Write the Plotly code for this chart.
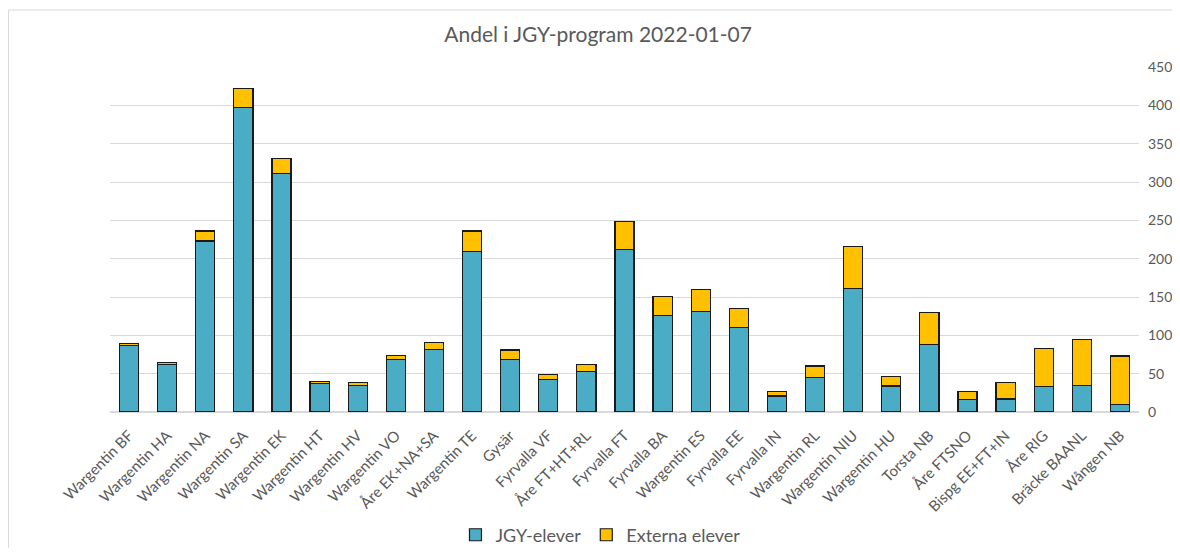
import plotly.graph_objects as go

# ── Data ─────────────────────────────────────────────────────────────────────

programs = [
    "Wargentin BF", "Wargentin HA", "Wargentin NA", "Wargentin SA", "Wargentin EK",
    "Wargentin HT", "Wargentin HV", "Wargentin VO", "Åre EK+NA+SA", "Wargentin TE",
    "Gysär", "Fyrvalla VF", "Åre FT+HT+RL", "Fyrvalla FT", "Fyrvalla BA",
    "Wargentin ES", "Fyrvalla EE", "Fyrvalla IN", "Wargentin RL", "Wargentin NIU",
    "Wargentin HU", "Torsta NB", "Åre FTSNO", "Bispg EE+FT+IN", "Åre RIG",
    "Bräcke BAANL", "Wången NB",
]

jgy_elever = [
    87, 62, 223, 397, 311,
    37, 35, 69, 82, 209,
    69, 42, 53, 212, 126,
    131, 110, 21, 45, 161,
    34, 88, 16, 17, 33,
    35, 10,
]

externa_elever = [
    2, 3, 13, 25, 20,
    3, 3, 5, 9, 27,
    12, 7, 9, 37, 25,
    29, 25, 6, 15, 55,
    12, 42, 11, 21, 50,
    60, 63,
]

y_ticks = list(range(0, 451, 50))

# ── Styling ──────────────────────────────────────────────────────────────────

BLUE = "#4BACC6"
YELLOW = "#FFC000"
TEXT = "#595959"
GRID = "#D9D9D9"
FONT = "Lato, 'Open Sans', sans-serif"

# the page body has an 8px margin, so the figure is sized to fit inside it
FIG_W, FIG_H = 1164, 540

fig = go.Figure()

fig.add_trace(go.Bar(
    x=programs,
    y=jgy_elever,
    name="JGY-elever",
    marker=dict(color=BLUE, line=dict(color="#1a1a1a", width=1.2)),
    width=0.5,
))
fig.add_trace(go.Bar(
    x=programs,
    y=externa_elever,
    name="Externa elever",
    marker=dict(color=YELLOW, line=dict(color="#1a1a1a", width=1.2)),
    width=0.5,
))

# light chart-area frame: only top and left edges show in the reference
frame = dict(color="#D9D9D9", width=1)

fig.update_layout(
    barmode="stack",
    width=FIG_W,
    height=FIG_H,
    margin=dict(l=102, r=33, t=59, b=136, autoexpand=False),
    paper_bgcolor="#ffffff",
    plot_bgcolor="#ffffff",
    font=dict(family=FONT, color=TEXT),
    title=dict(
        text="Andel i JGY-program 2022-01-07",
        x=0.507,
        xanchor="center",
        xref="container",
        y=0.95,
        yanchor="middle",
        yref="container",
        font=dict(size=21, color=TEXT, family=FONT),
    ),
    legend=dict(
        orientation="h",
        x=0.509,
        xanchor="center",
        xref="container",
        y=0.024,
        yanchor="middle",
        yref="container",
        font=dict(size=18, color=TEXT),
        traceorder="normal",
        itemwidth=30,
    ),
    shapes=[
        dict(type="line", xref="paper", yref="paper",
             x0=-0.0986, x1=1.032, y0=1.165, y1=1.165, line=frame, layer="below"),
        dict(type="line", xref="paper", yref="paper",
             x0=-0.0986, x1=-0.0986, y0=-0.394, y1=1.165, line=frame, layer="below"),
    ],
)

fig.update_xaxes(
    tickangle=-45,
    tickfont=dict(size=15, color=TEXT),
    showgrid=False,
    showline=True,
    linecolor=GRID,
    linewidth=1,
    ticks="",
    ticklabelstandoff=8,
    automargin=False,
)

fig.update_yaxes(
    side="right",
    range=[0, 450],
    tickvals=y_ticks,
    tickfont=dict(size=14, color=TEXT),
    showgrid=True,
    gridcolor=GRID,
    gridwidth=1,
    zeroline=True,
    zerolinecolor=GRID,
    showline=False,
    ticks="",
    ticklabelstandoff=8,
    automargin=False,
)

fig.write_html("out.html")
